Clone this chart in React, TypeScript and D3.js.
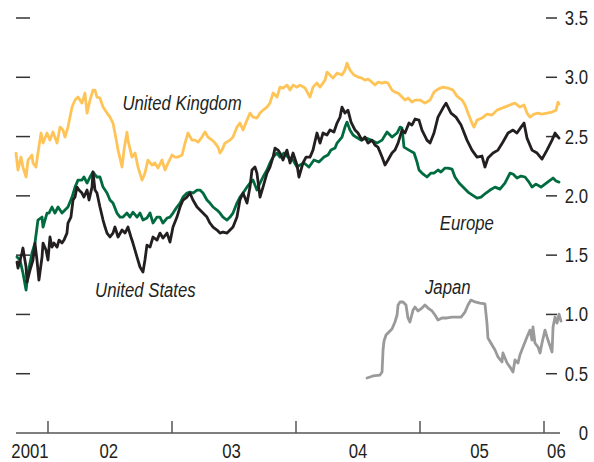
import React from "react";
import * as d3 from "d3";

// [decimal year, percent]
const UNITED_KINGDOM: [number, number][] = [
  [2001.742, 2.361], [2001.758, 2.218], [2001.782, 2.327], [2001.798, 2.243], [2001.823, 2.159], [2001.839, 2.302],
  [2001.871, 2.344], [2001.879, 2.277], [2001.903, 2.243], [2001.919, 2.361], [2001.944, 2.53], [2001.96, 2.445],
  [2001.992, 2.53], [2002.016, 2.47], [2002.04, 2.538], [2002.073, 2.445], [2002.097, 2.58], [2002.121, 2.555],
  [2002.137, 2.496], [2002.161, 2.58], [2002.194, 2.749], [2002.218, 2.808], [2002.242, 2.833], [2002.274, 2.782],
  [2002.298, 2.867], [2002.315, 2.698], [2002.339, 2.808], [2002.363, 2.892], [2002.379, 2.892], [2002.395, 2.833],
  [2002.419, 2.825], [2002.444, 2.749], [2002.476, 2.698], [2002.5, 2.664], [2002.524, 2.614], [2002.54, 2.53],
  [2002.565, 2.386], [2002.597, 2.243], [2002.613, 2.386], [2002.637, 2.538], [2002.645, 2.47], [2002.677, 2.327],
  [2002.702, 2.361], [2002.726, 2.243], [2002.758, 2.133], [2002.782, 2.192], [2002.806, 2.302], [2002.839, 2.26],
  [2002.863, 2.277], [2002.887, 2.234], [2002.919, 2.302], [2002.944, 2.218], [2002.968, 2.277], [2003.0, 2.344],
  [2003.024, 2.327], [2003.048, 2.327], [2003.081, 2.344], [2003.105, 2.445], [2003.129, 2.53], [2003.161, 2.47],
  [2003.185, 2.47], [2003.21, 2.454], [2003.242, 2.496], [2003.266, 2.538], [2003.29, 2.496], [2003.323, 2.47],
  [2003.347, 2.445], [2003.371, 2.411], [2003.387, 2.361], [2003.403, 2.386], [2003.427, 2.445], [2003.468, 2.47],
  [2003.492, 2.496], [2003.524, 2.58], [2003.548, 2.614], [2003.573, 2.555], [2003.605, 2.639], [2003.629, 2.698],
  [2003.653, 2.664], [2003.685, 2.656], [2003.71, 2.698], [2003.734, 2.723], [2003.766, 2.749], [2003.79, 2.782],
  [2003.815, 2.867], [2003.847, 2.833], [2003.871, 2.917], [2003.895, 2.909], [2003.927, 2.934], [2003.952, 2.892],
  [2003.976, 2.934], [2004.008, 2.917], [2004.032, 2.934], [2004.073, 2.909], [2004.113, 2.833], [2004.137, 2.917],
  [2004.169, 2.951], [2004.194, 2.917], [2004.234, 2.976], [2004.25, 3.044], [2004.274, 3.019], [2004.298, 2.993],
  [2004.331, 3.035], [2004.371, 3.019], [2004.395, 3.061], [2004.411, 3.12], [2004.435, 3.061], [2004.468, 3.019],
  [2004.5, 3.002], [2004.532, 2.993], [2004.556, 2.976], [2004.581, 2.985], [2004.613, 2.959], [2004.637, 2.934],
  [2004.661, 2.959], [2004.694, 2.951], [2004.718, 2.959], [2004.742, 2.951], [2004.774, 2.892], [2004.798, 2.875],
  [2004.823, 2.867], [2004.855, 2.833], [2004.879, 2.808], [2004.903, 2.825], [2004.935, 2.791], [2004.96, 2.808],
  [2005.0, 2.808], [2005.04, 2.782], [2005.081, 2.808], [2005.113, 2.875], [2005.145, 2.9], [2005.185, 2.917],
  [2005.226, 2.909], [2005.266, 2.892], [2005.298, 2.841], [2005.339, 2.808], [2005.363, 2.766], [2005.387, 2.698],
  [2005.419, 2.614], [2005.435, 2.58], [2005.46, 2.639], [2005.5, 2.656], [2005.54, 2.69], [2005.581, 2.681],
  [2005.621, 2.723], [2005.661, 2.74], [2005.702, 2.757], [2005.742, 2.774], [2005.766, 2.782], [2005.806, 2.749],
  [2005.839, 2.766], [2005.863, 2.698], [2005.887, 2.664], [2005.919, 2.69], [2005.952, 2.698], [2005.984, 2.69],
  [2006.024, 2.698], [2006.065, 2.707], [2006.097, 2.723], [2006.113, 2.791], [2006.121, 2.774],
];

const UNITED_STATES: [number, number][] = [
  [2001.75, 1.442], [2001.758, 1.391], [2001.79, 1.518], [2001.798, 1.56], [2001.823, 1.4], [2001.831, 1.273],
  [2001.855, 1.374], [2001.879, 1.459], [2001.895, 1.602], [2001.911, 1.459], [2001.927, 1.29], [2001.952, 1.484],
  [2001.96, 1.602], [2001.984, 1.543], [2002.0, 1.459], [2002.016, 1.653], [2002.032, 1.568], [2002.048, 1.602],
  [2002.073, 1.568], [2002.089, 1.627], [2002.113, 1.602], [2002.129, 1.627], [2002.153, 1.686], [2002.161, 1.771],
  [2002.185, 1.821], [2002.202, 1.965], [2002.218, 1.99], [2002.234, 2.074], [2002.25, 2.049], [2002.274, 2.024],
  [2002.29, 1.99], [2002.315, 2.049], [2002.331, 1.965], [2002.355, 2.074], [2002.363, 2.201], [2002.379, 2.049],
  [2002.395, 2.024], [2002.419, 1.906], [2002.444, 1.796], [2002.46, 1.737], [2002.476, 1.686], [2002.5, 1.653],
  [2002.524, 1.686], [2002.54, 1.737], [2002.565, 1.653], [2002.597, 1.712], [2002.621, 1.686], [2002.645, 1.737],
  [2002.669, 1.653], [2002.685, 1.602], [2002.718, 1.484], [2002.742, 1.4], [2002.766, 1.358], [2002.782, 1.459],
  [2002.798, 1.585], [2002.823, 1.568], [2002.847, 1.653], [2002.879, 1.627], [2002.903, 1.686], [2002.927, 1.644],
  [2002.96, 1.686], [2002.984, 1.61], [2003.008, 1.737], [2003.04, 1.821], [2003.065, 1.906], [2003.089, 1.965],
  [2003.121, 1.99], [2003.145, 2.024], [2003.169, 1.965], [2003.202, 1.906], [2003.226, 1.88], [2003.25, 1.855],
  [2003.282, 1.821], [2003.306, 1.771], [2003.331, 1.737], [2003.363, 1.712], [2003.387, 1.686], [2003.411, 1.695],
  [2003.444, 1.686], [2003.468, 1.712], [2003.492, 1.737], [2003.524, 1.821], [2003.548, 1.965], [2003.573, 2.024],
  [2003.605, 1.939], [2003.629, 2.074], [2003.645, 2.218], [2003.669, 2.243], [2003.685, 2.192], [2003.71, 1.99],
  [2003.734, 2.074], [2003.766, 2.192], [2003.79, 2.243], [2003.815, 2.327], [2003.831, 2.403], [2003.855, 2.386],
  [2003.871, 2.361], [2003.895, 2.302], [2003.927, 2.386], [2003.952, 2.277], [2003.976, 2.361], [2004.008, 2.26],
  [2004.024, 2.159], [2004.056, 2.277], [2004.081, 2.327], [2004.113, 2.327], [2004.137, 2.386], [2004.169, 2.53],
  [2004.194, 2.445], [2004.218, 2.53], [2004.25, 2.513], [2004.274, 2.555], [2004.306, 2.538], [2004.331, 2.614],
  [2004.355, 2.664], [2004.371, 2.749], [2004.395, 2.698], [2004.419, 2.723], [2004.444, 2.622], [2004.476, 2.555],
  [2004.5, 2.53], [2004.532, 2.47], [2004.556, 2.496], [2004.581, 2.445], [2004.613, 2.47], [2004.637, 2.428],
  [2004.661, 2.411], [2004.694, 2.327], [2004.718, 2.26], [2004.742, 2.302], [2004.774, 2.361], [2004.798, 2.386],
  [2004.823, 2.445], [2004.855, 2.555], [2004.879, 2.53], [2004.911, 2.614], [2004.935, 2.597], [2004.96, 2.648],
  [2004.992, 2.639], [2005.016, 2.555], [2005.056, 2.47], [2005.081, 2.445], [2005.113, 2.53], [2005.145, 2.664],
  [2005.185, 2.74], [2005.21, 2.782], [2005.25, 2.698], [2005.29, 2.664], [2005.331, 2.597], [2005.379, 2.47],
  [2005.419, 2.386], [2005.46, 2.327], [2005.5, 2.336], [2005.524, 2.243], [2005.548, 2.319], [2005.589, 2.361],
  [2005.629, 2.386], [2005.669, 2.454], [2005.71, 2.53], [2005.75, 2.555], [2005.782, 2.53], [2005.815, 2.58],
  [2005.839, 2.614], [2005.863, 2.487], [2005.903, 2.386], [2005.944, 2.361], [2005.984, 2.31], [2006.024, 2.386],
  [2006.065, 2.47], [2006.089, 2.53], [2006.121, 2.487],
];

const EUROPE: [number, number][] = [
  [2001.75, 1.484], [2001.774, 1.459], [2001.798, 1.349], [2001.823, 1.206], [2001.839, 1.349], [2001.871, 1.518],
  [2001.895, 1.602], [2001.919, 1.796], [2001.952, 1.821], [2001.96, 1.737], [2001.992, 1.855], [2002.008, 1.855],
  [2002.032, 1.906], [2002.056, 1.855], [2002.081, 1.906], [2002.113, 1.855], [2002.137, 1.88], [2002.161, 1.906],
  [2002.194, 1.99], [2002.218, 2.074], [2002.242, 2.133], [2002.274, 2.133], [2002.29, 2.159], [2002.315, 2.108],
  [2002.339, 2.159], [2002.363, 2.201], [2002.395, 2.159], [2002.419, 2.159], [2002.444, 2.074], [2002.476, 2.024],
  [2002.5, 1.965], [2002.524, 1.939], [2002.556, 1.855], [2002.581, 1.821], [2002.605, 1.821], [2002.637, 1.855],
  [2002.661, 1.821], [2002.685, 1.863], [2002.718, 1.821], [2002.742, 1.855], [2002.766, 1.796], [2002.798, 1.813],
  [2002.823, 1.855], [2002.847, 1.771], [2002.879, 1.821], [2002.903, 1.821], [2002.927, 1.771], [2002.96, 1.813],
  [2002.984, 1.821], [2003.008, 1.855], [2003.04, 1.906], [2003.065, 1.939], [2003.089, 1.99], [2003.121, 2.024],
  [2003.145, 2.032], [2003.169, 2.024], [2003.202, 2.049], [2003.226, 2.049], [2003.25, 2.024], [2003.282, 1.965],
  [2003.306, 1.939], [2003.331, 1.906], [2003.363, 1.88], [2003.387, 1.855], [2003.411, 1.821], [2003.444, 1.796],
  [2003.468, 1.821], [2003.492, 1.855], [2003.524, 1.939], [2003.548, 1.99], [2003.573, 2.024], [2003.605, 2.074],
  [2003.629, 2.108], [2003.653, 2.133], [2003.685, 2.049], [2003.71, 2.108], [2003.734, 2.159], [2003.766, 2.218],
  [2003.79, 2.277], [2003.815, 2.327], [2003.847, 2.361], [2003.871, 2.327], [2003.903, 2.361], [2003.935, 2.327],
  [2003.976, 2.302], [2004.008, 2.243], [2004.032, 2.26], [2004.065, 2.277], [2004.105, 2.243], [2004.145, 2.302],
  [2004.185, 2.285], [2004.226, 2.327], [2004.258, 2.344], [2004.282, 2.386], [2004.315, 2.403], [2004.331, 2.445],
  [2004.371, 2.496], [2004.395, 2.58], [2004.411, 2.622], [2004.435, 2.555], [2004.46, 2.513], [2004.484, 2.496],
  [2004.524, 2.47], [2004.565, 2.487], [2004.605, 2.47], [2004.637, 2.454], [2004.653, 2.445], [2004.694, 2.47],
  [2004.734, 2.538], [2004.774, 2.496], [2004.815, 2.53], [2004.839, 2.58], [2004.855, 2.572], [2004.871, 2.411],
  [2004.911, 2.386], [2004.952, 2.361], [2004.976, 2.285], [2004.992, 2.218], [2005.016, 2.192], [2005.056, 2.159],
  [2005.089, 2.192], [2005.113, 2.192], [2005.145, 2.218], [2005.169, 2.201], [2005.202, 2.234], [2005.226, 2.234],
  [2005.258, 2.226], [2005.282, 2.159], [2005.315, 2.108], [2005.355, 2.066], [2005.387, 2.032], [2005.411, 2.015],
  [2005.46, 1.981], [2005.492, 1.99], [2005.532, 2.024], [2005.565, 2.049], [2005.605, 2.074], [2005.645, 2.057],
  [2005.685, 2.108], [2005.726, 2.192], [2005.75, 2.184], [2005.782, 2.15], [2005.815, 2.167], [2005.847, 2.159],
  [2005.879, 2.116], [2005.903, 2.074], [2005.935, 2.099], [2005.976, 2.074], [2006.008, 2.099], [2006.04, 2.125],
  [2006.073, 2.15], [2006.097, 2.125], [2006.121, 2.116],
];

const JAPAN: [number, number][] = [
  [2004.573, 0.464], [2004.621, 0.481], [2004.677, 0.489], [2004.694, 0.514], [2004.702, 0.7], [2004.71, 0.776],
  [2004.726, 0.826], [2004.75, 0.852], [2004.774, 0.877], [2004.798, 0.936], [2004.815, 0.995], [2004.823, 1.079],
  [2004.839, 1.105], [2004.863, 1.105], [2004.887, 1.079], [2004.903, 0.97], [2004.919, 0.936], [2004.944, 1.037],
  [2004.96, 1.062], [2004.984, 1.029], [2005.016, 1.054], [2005.04, 1.079], [2005.065, 1.054], [2005.097, 1.029],
  [2005.121, 0.995], [2005.145, 0.953], [2005.177, 0.97], [2005.218, 0.97], [2005.258, 0.978], [2005.298, 0.978],
  [2005.331, 0.978], [2005.363, 1.02], [2005.387, 1.079], [2005.411, 1.121], [2005.444, 1.105], [2005.484, 1.096],
  [2005.524, 1.088], [2005.54, 0.927], [2005.548, 0.801], [2005.581, 0.742], [2005.605, 0.7], [2005.629, 0.641],
  [2005.661, 0.599], [2005.669, 0.675], [2005.702, 0.59], [2005.726, 0.556], [2005.75, 0.514], [2005.766, 0.616],
  [2005.79, 0.59], [2005.806, 0.658], [2005.831, 0.725], [2005.863, 0.809], [2005.887, 0.868], [2005.903, 0.784],
  [2005.911, 0.894], [2005.927, 0.759], [2005.952, 0.725], [2005.968, 0.675], [2005.984, 0.759], [2006.008, 0.868],
  [2006.032, 0.784], [2006.065, 0.683], [2006.073, 0.894], [2006.089, 0.978], [2006.105, 0.927], [2006.121, 1.003],
  [2006.137, 0.944],
];

const YEAR_TICKS = [2002, 2003, 2004, 2005, 2006];
const YEAR_LABELS: [number, string][] = [
  [2001.855, "2001"], [2002.49, "02"], [2003.48, "03"], [2004.5, "04"], [2005.48, "05"], [2006.1, "06"],
];
const Y_TICKS = [0.5, 1, 1.5, 2, 2.5, 3, 3.5];

const SERIES_LABELS: { text: string; t: number; v: number }[] = [
  { text: "United Kingdom", t: 2002.6, v: 2.72 },
  { text: "United States", t: 2002.38, v: 1.15 },
  { text: "Europe", t: 2005.16, v: 1.71 },
  { text: "Japan", t: 2005.04, v: 1.17 },
];

const FONT = "'Liberation Sans', Arial, sans-serif";
const SX = 0.86;

function Label(props: {
  x: number;
  y: number;
  anchor?: "start" | "middle" | "end";
  size: number;
  italic?: boolean;
  children: React.ReactNode;
}) {
  return (
    <text
      transform={`translate(${props.x},${props.y}) scale(${SX},1)`}
      textAnchor={props.anchor || "start"}
      fontFamily={FONT}
      fontSize={props.size}
      fontStyle={props.italic ? "italic" : "normal"}
      fill="#231F20"
    >
      {props.children}
    </text>
  );
}

export default function App() {
  const W = 594;
  const H = 462;
  const x = d3.scaleLinear().domain([2001.742, 2006.125]).range([16, 559.5]);
  const y = d3.scaleLinear().domain([0, 3.5]).range([433, 18]);
  const line = d3
    .line<[number, number]>()
    .x((d) => x(d[0]))
    .y((d) => y(d[1]))
    .curve(d3.curveLinear);

  const series = [
    { data: UNITED_KINGDOM, color: "#FFC457" },
    { data: EUROPE, color: "#006B3F" },
    { data: UNITED_STATES, color: "#231F20" },
    { data: JAPAN, color: "#9A9A9A" },
  ];

  return (
    <svg width={W} height={H} style={{ position: "absolute", left: 0, top: 0, background: "#fff" }}>
      <rect x={0} y={0} width={W} height={H} fill="#fff" />
      {Y_TICKS.map((v) => (
        <g key={"yt" + v}>
          <line x1={16} x2={30} y1={y(v)} y2={y(v)} stroke="#333" strokeWidth={1.5} />
          <line x1={546} x2={557} y1={y(v)} y2={y(v)} stroke="#333" strokeWidth={1.5} />
          <Label x={588} y={y(v) + 7} anchor="end" size={19.5}>
            {d3.format(".1f")(v)}
          </Label>
        </g>
      ))}
      <Label x={588} y={y(0) + 7} anchor="end" size={19.5}>
        0
      </Label>
      {series.map((s, i) => (
        <path
          key={i}
          d={line(s.data) || ""}
          fill="none"
          stroke={s.color}
          strokeWidth={2.8}
          strokeLinejoin="round"
          strokeLinecap="round"
        />
      ))}
      <line x1={16} x2={560} y1={y(0)} y2={y(0)} stroke="#555" strokeWidth={1.5} />
      {YEAR_TICKS.map((t) => (
        <line key={"xt" + t} x1={x(t)} x2={x(t)} y1={y(0)} y2={y(0) - 12} stroke="#555" strokeWidth={1.5} />
      ))}
      {YEAR_LABELS.map(([t, label]) => (
        <Label key={label} x={x(t)} y={458} anchor="middle" size={19.5}>
          {label}
        </Label>
      ))}
      {SERIES_LABELS.map((l) => (
        <Label key={l.text} x={x(l.t)} y={y(l.v)} size={19.5} italic>
          {l.text}
        </Label>
      ))}
    </svg>
  );
}
